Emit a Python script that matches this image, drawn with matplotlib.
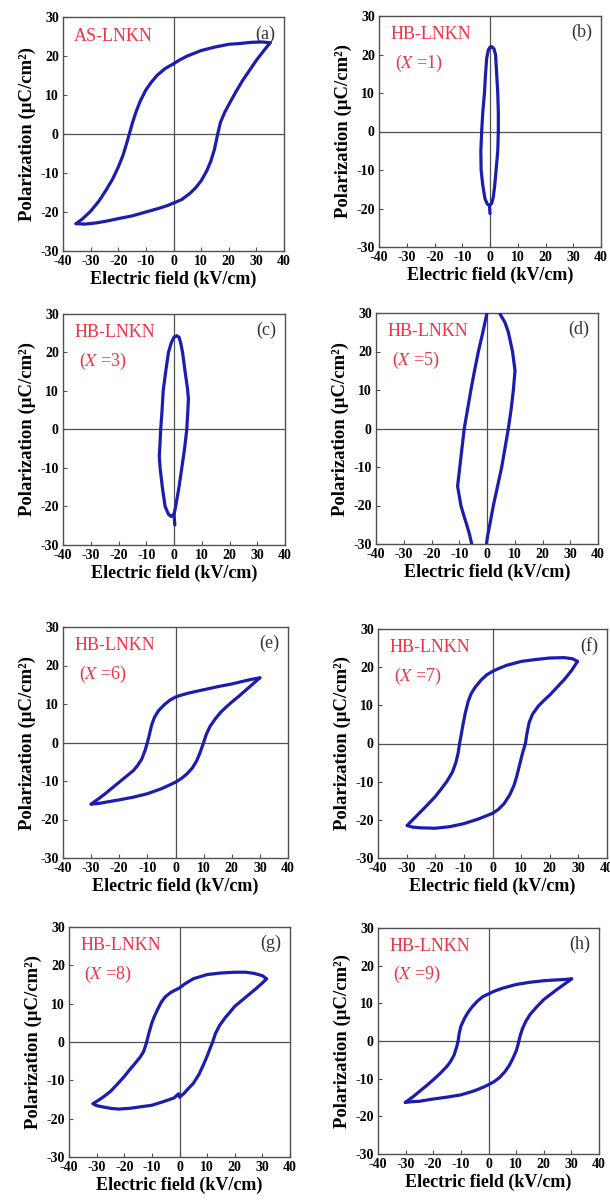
import matplotlib
matplotlib.use("Agg")
import matplotlib.pyplot as plt

plt.rcParams["font.family"] = ["Liberation Serif", "DejaVu Serif"]
plt.rcParams["mathtext.fontset"] = "stix"
plt.rcParams["axes.unicode_minus"] = False

LOOP_COLOR = "#1c1cb0"
NOTE_COLOR = "#ee3344"
FRAME_COLOR = "#505050"

# P-E loops: each sample has an upper branch (field sweeping down) and a
# lower branch (field sweeping up); E in kV/cm, P in uC/cm^2.
panel_tags = ["(a)", "(b)", "(c)", "(d)", "(e)", "(f)", "(g)", "(h)"]
sample_names = ["AS-LNKN", "HB-LNKN", "HB-LNKN", "HB-LNKN",
                "HB-LNKN", "HB-LNKN", "HB-LNKN", "HB-LNKN"]
cycle_counts = [None, 1, 3, 5, 6, 7, 8, 9]

upper_E = [
    [35, 32, 28, 24, 20, 15, 10, 5, 2, 0, -3, -6, -8, -10, -12, -13.5, -14.8,
     -16, -17, -18.3, -20, -22, -24.5, -27, -30, -33, -35.3],
    [0.6, 1.4, 2.0, 2.4, 2.8, 3.0, 3.0, 2.8, 2.2, 1.7, 1.2, 0.6, -0.2, 0.0],
    [1.0, 1.8, 2.4, 3.1, 4.0, 4.8, 5.2, 5.0, 4.6, 3.8, 2.8, 1.8, 0.6, 0.0, 0.3],
    [-0.4, 0.2, 1.0, 2.3, 3.8, 5.3, 6.5, 7.7, 8.7, 9.5, 10.1, 9.2, 7.7, 6.5, 4.5, 3.8],
    [30, 27, 24, 20, 15, 10, 5, 2, 0, -2, -4, -6, -7.5, -8.5, -9.3, -10, -10.8,
     -12, -13.5, -15, -17.5, -20, -22.5, -25, -27.5, -30],
    [29.7, 28, 25, 20, 15, 10, 5, 2, 0, -2, -4, -6, -7.5, -8.5, -9.5, -10.3,
     -11, -11.5, -12, -12.8, -14, -16, -18, -20, -22.5, -25, -27.5, -29.8],
    [31.5, 30, 27, 24, 20, 15, 10, 5, 2, 0, -3, -5, -6.5, -8, -9.2, -10, -11,
     -12, -13, -14.3, -16, -18, -20, -22.5, -25, -27.5, -30, -31.3],
    [30.1, 27, 24, 20, 15, 10, 5, 2, 0, -2, -4, -6, -7.5, -8.7, -10, -10.6,
     -11, -11.5, -12.5, -13.8, -15, -17.5, -20, -22.5, -25, -27.5, -30.1],
]
upper_P = [
    [23.4, 23.6, 23.5, 23.2, 23.0, 22.3, 21.4, 20.0, 18.9, 18.0, 16.8, 15.0,
     13.3, 11.3, 8.5, 5.8, 3.0, 0.0, -2.5, -5.5, -8.5, -11.5, -14.5, -17.2,
     -19.8, -21.8, -23.0],
    [22.0, 21.5, 20.0, 15.0, 10.0, 5.0, 0.0, -5.0, -10.0, -14.0, -17.0, -18.7, -19.2, -21.3],
    [24.3, 24.0, 22.5, 20.0, 15.0, 11.0, 8.0, 5.0, 0.0, -5.0, -10.0, -15.0, -20.0, -22.0, -24.8],
    [-31.0, -28.0, -25.0, -20.0, -15.0, -10.0, -5.0, 0.0, 5.0, 10.0, 15.0, 20.0,
     25.0, 27.5, 30.0, 31.0],
    [16.8, 16.4, 15.9, 15.2, 14.5, 13.7, 12.9, 12.3, 11.8, 11.0, 9.8, 8.3, 6.5,
     4.5, 2.0, 0.0, -2.0, -4.3, -6.0, -7.3, -8.8, -10.3, -11.8, -13.3, -14.7, -16.0],
    [21.5, 22.2, 22.5, 22.4, 22.0, 21.5, 20.5, 19.6, 18.9, 18.0, 16.6, 14.8,
     13.0, 11.0, 8.0, 5.0, 2.0, 0.0, -2.5, -5.0, -7.5, -10.0, -12.0, -13.9,
     -15.9, -17.8, -19.7, -21.5],
    [16.5, 17.3, 17.9, 18.2, 18.2, 18.0, 17.6, 16.5, 15.2, 14.1, 13.0, 11.9,
     10.5, 8.4, 6.5, 5.0, 2.5, -0.3, -2.5, -4.0, -5.5, -7.2, -9.0, -11.0,
     -12.9, -14.3, -15.5, -16.1],
    [16.5, 16.3, 16.2, 16.0, 15.6, 15.0, 14.0, 13.2, 12.5, 11.8, 10.6, 9.0,
     7.5, 6.0, 3.9, 2.0, 0.0, -1.5, -3.8, -5.5, -6.7, -8.6, -10.3, -11.9,
     -13.4, -14.9, -16.3],
]
lower_E = [
    [-35.3, -32, -28, -24, -20, -15, -10, -5, -2, 0, 3, 6, 8, 10, 12, 13.5,
     14.8, 16, 17, 18.5, 20, 22.5, 25, 27.5, 30, 32.5, 35],
    [-0.2, -1.0, -1.8, -2.6, -3.2, -3.3, -3.0, -2.6, -2.0, -1.6, -1.2, -0.6, 0.0, 0.6],
    [0.0, -1.0, -2.0, -3.2, -4.2, -5.0, -5.3, -5.0, -4.8, -4.3, -3.9, -3.0,
     -2.0, -1.0, 0.0, 1.0],
    [-5.2, -6.3, -7.3, -8.4, -9.4, -10.6, -9.8, -9.0, -8.2, -7.0, -5.8, -4.5,
     -3.1, -1.5, 0.0, -0.3],
    [-30, -27, -24, -20, -15, -10, -5, -2, 0, 2, 4, 6, 7.5, 8.7, 10, 11, 12.3,
     14, 16, 18, 20, 22.5, 25, 27.5, 30],
    [-29.8, -28, -25, -20, -15, -10, -5, -2, 0, 2, 4, 6, 7.5, 8.5, 9.5, 10.5,
     11.5, 12, 12.8, 14, 16, 18, 20, 22.5, 25, 27.5, 29.7],
    [-31.3, -30, -28, -25, -22, -18, -14, -10, -6, -2, -0.3, 0, 1.5, 3, 5, 7,
     8.5, 10, 11, 12, 13, 14.5, 16.5, 18.5, 20, 22.5, 25, 27.5, 30, 31.5],
    [-30.1, -27.5, -25, -20, -15, -10, -5, -2, 0, 2, 4, 6, 7.5, 8.7, 10, 10.6,
     11, 11.5, 12.3, 13.5, 15, 17.5, 20, 22.5, 25, 27.5, 30.1],
]
lower_P = [
    [-23.0, -23.1, -22.8, -22.3, -21.7, -21.0, -20.0, -19.0, -18.3, -17.7,
     -16.8, -15.2, -13.8, -12.0, -9.5, -7.0, -4.0, 0.0, 3.0, 5.5, 7.5, 10.7,
     13.7, 16.3, 18.9, 21.2, 23.4],
    [-19.2, -18.8, -17.5, -14.0, -10.0, -5.0, 0.0, 5.0, 10.0, 15.0, 19.0, 21.2, 21.9, 22.0],
    [-22.0, -22.6, -22.0, -20.0, -15.0, -10.0, -7.0, -3.0, 0.0, 5.0, 10.0,
     15.0, 20.0, 22.5, 24.0, 24.3],
    [-31.0, -27.5, -25.0, -22.5, -20.0, -15.0, -10.0, -5.0, 0.0, 5.0, 10.0,
     15.0, 20.0, 25.0, 30.0, 31.0],
    [-16.0, -15.8, -15.4, -14.9, -14.2, -13.3, -12.0, -11.0, -10.3, -9.4, -8.2,
     -6.6, -4.8, -2.7, 0.0, 2.2, 4.2, 6.0, 7.8, 9.2, 10.5, 12.0, 13.6, 15.2, 16.8],
    [-21.5, -21.9, -22.1, -22.2, -21.8, -21.0, -19.8, -18.9, -18.3, -17.3,
     -15.8, -13.5, -11.0, -8.5, -5.5, -2.5, 0.0, 2.5, 5.5, 7.7, 9.8, 11.3,
     12.7, 14.7, 16.7, 19.0, 21.5],
    [-16.1, -16.6, -16.9, -17.3, -17.5, -17.3, -16.9, -16.5, -15.6, -14.6,
     -13.5, -14.4, -13.5, -12.3, -10.8, -8.5, -6.2, -3.7, -1.8, 0.0, 2.2, 4.3,
     6.3, 8.0, 9.3, 10.8, 12.3, 13.8, 15.4, 16.5],
    [-16.3, -16.1, -16.0, -15.4, -14.9, -14.3, -13.2, -12.3, -11.6, -10.8,
     -9.7, -8.1, -6.5, -4.8, -2.7, -1.2, 0.0, 1.5, 3.3, 5.2, 7.0, 9.1, 11.0,
     12.4, 13.8, 15.1, 16.5],
]

# axes boxes in pixels: left, top, right, bottom
boxes = [
    (63, 17, 284, 251), (379, 16, 601, 247),
    (63, 314, 285, 545), (376, 313, 598, 544),
    (63, 627, 288, 858), (378, 629, 607, 858),
    (69, 927, 290, 1157), (378, 928, 599, 1154),
]

W, H = 610, 1200
fig = plt.figure(figsize=(W / 100, H / 100), dpi=100)

for i in range(8):
    l, t, r, b = boxes[i]
    ax = fig.add_axes([l / W, 1 - b / H, (r - l) / W, (b - t) / H])
    ax.axhline(0, color=FRAME_COLOR, lw=0.9, zorder=1)
    ax.axvline(0, color=FRAME_COLOR, lw=0.9, zorder=1)
    for xs, ys in ((upper_E[i], upper_P[i]), (lower_E[i], lower_P[i])):
        ax.plot(xs, ys, color=LOOP_COLOR, lw=2.3, solid_joinstyle="round",
                solid_capstyle="round", zorder=3)
    ax.set_xlim(-40, 40)
    ax.set_ylim(-30, 30)
    ax.set_xticks(range(-40, 41, 10))
    ax.set_yticks(range(-30, 31, 10))
    ax.tick_params(direction="in", length=3, width=0.8, color=FRAME_COLOR,
                   labelsize=10, pad=3)
    for lab in ax.get_xticklabels() + ax.get_yticklabels():
        lab.set_fontweight("bold")
    for sp in ax.spines.values():
        sp.set_color(FRAME_COLOR)
        sp.set_linewidth(1.0)
    ax.set_xlabel("Electric field (kV/cm)", fontsize=13, fontweight="bold",
                  labelpad=2)
    ax.set_ylabel("Polarization (\u03bcC/cm\u00b2)", fontsize=13.5,
                  fontweight="bold", labelpad=3)

    ax.text(0.05, 0.955, sample_names[i], transform=ax.transAxes,
            color=NOTE_COLOR, fontsize=13, ha="left", va="top")
    if cycle_counts[i] is not None:
        ax.text(0.07, 0.84, "($X$ =%d)" % cycle_counts[i],
                transform=ax.transAxes, color=NOTE_COLOR, fontsize=13,
                ha="left", va="top")
    ax.text(0.96, 0.965, panel_tags[i], transform=ax.transAxes,
            color="#333333", fontsize=13, ha="right", va="top")

fig.savefig("out.png", dpi=100)
